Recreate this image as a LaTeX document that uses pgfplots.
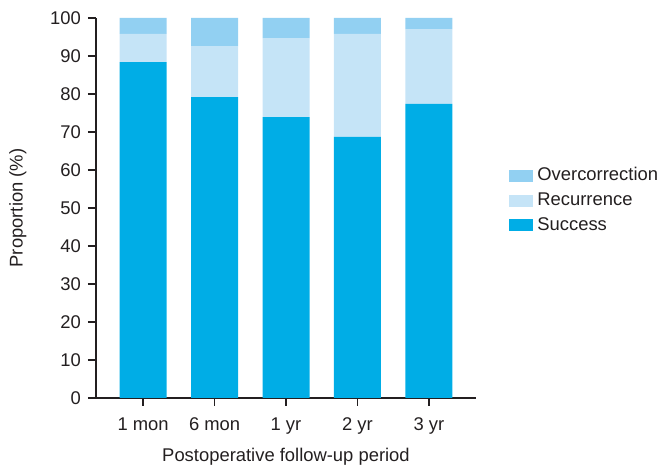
\documentclass[border=0pt]{standalone}
\usepackage{pgfplots}
\pgfplotsset{compat=1.18}
\usepackage{fontspec}
\setmainfont{Liberation Sans}
\definecolor{success}{HTML}{00ADE6}
\definecolor{recur}{HTML}{C5E4F7}
\definecolor{overc}{HTML}{92D0F2}
\definecolor{txt}{HTML}{231F20}
\begin{document}
\begin{tikzpicture}
\begin{axis}[
  name=ax,
  scale only axis,
  width=190pt, height=190pt,
  ybar stacked,
  bar width=23.5pt,
  xmin=-0.66, xmax=4.66,
  ymin=0, ymax=100,
  xtick=data,
  xticklabels={1 mon,6 mon,1 yr,2 yr,3 yr},
  ytick={0,10,...,100},
  axis x line*=bottom, axis y line*=left,
  axis line style={-, txt, line width=0.7pt},
  tick style={txt, line width=0.7pt},
  tick align=outside,
  major tick length=4pt,
  x tick label style={yshift=-2.5pt},
  font=\fontsize{9.2}{11}\selectfont,
  tick label style={font=\fontsize{9.2}{11}\selectfont, text=txt},
  /pgf/number format/assume math mode=true,
  xlabel={Postoperative follow-up period},
  ylabel={Proportion (\%)},
  label style={text=txt},
  xlabel style={yshift=0pt},
  ylabel style={yshift=5pt},
  legend style={draw=none, at={(1,0.52)}, anchor=west, xshift=13.5pt,
    font=\fontsize{9.2}{11}\selectfont, text=txt, row sep=0.5pt,
    /tikz/every even column/.append style={column sep=1pt}},
  legend cell align=left,
  reverse legend,
  legend image code/.code={\fill[#1] (0pt,-3pt) rectangle (12pt,3pt);},
]
\addplot[fill=success, draw=none] coordinates {(0,88.4) (1,79.2) (2,73.9) (3,68.7) (4,77.4)};
\addlegendentry{Success}
\addplot[fill=recur, draw=none] coordinates {(0,7.4) (1,13.4) (2,20.8) (3,27.1) (4,19.7)};
\addlegendentry{Recurrence}
\addplot[fill=overc, draw=none] coordinates {(0,4.2) (1,7.4) (2,5.3) (3,4.2) (4,2.9)};
\addlegendentry{Overcorrection}
\end{axis}
\pgfresetboundingbox
\path ([xshift=-48pt,yshift=-39pt]ax.south west) rectangle ([xshift=97pt,yshift=9pt]ax.north east);
\end{tikzpicture}
\end{document}
